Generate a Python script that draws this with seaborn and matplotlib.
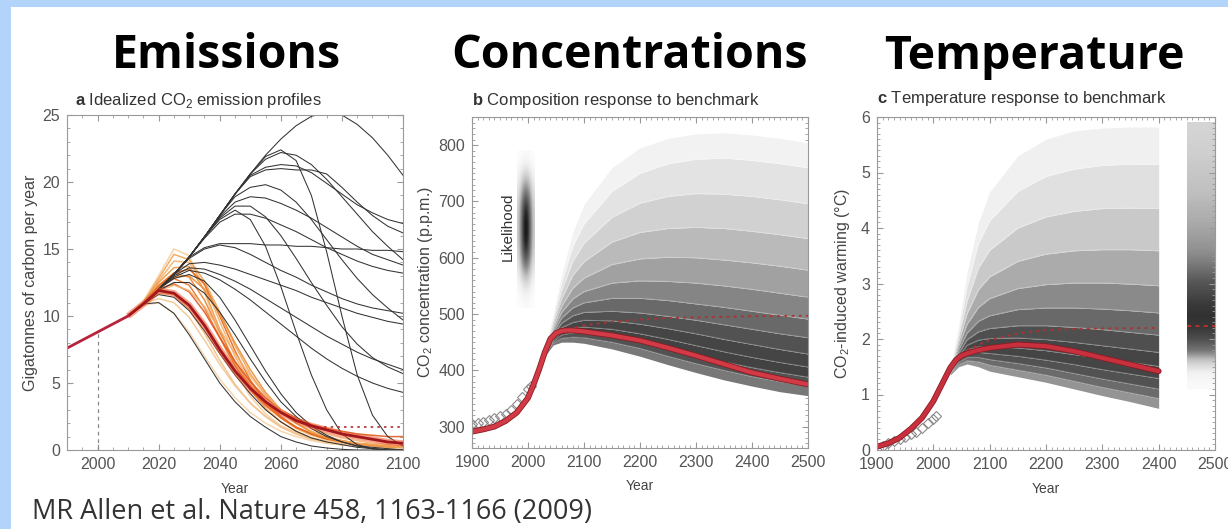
import numpy as np
import pandas as pd
import matplotlib
matplotlib.use("Agg")
import matplotlib.pyplot as plt
import matplotlib.patheffects as pe
from matplotlib.patches import Rectangle
from matplotlib.ticker import MultipleLocator
import seaborn as sns

W, H, DPI = 1228, 529, 100

# ---------------- panel a: idealized emission profiles (GtC / yr) ----------------
hist_years = [1990, 1995, 2000, 2005, 2010]
hist_emis = [7.6, 8.2, 8.8, 9.4, 10.0]
scen_years = [2010, 2015, 2020, 2025, 2030, 2035, 2040, 2045, 2050, 2055,
              2060, 2065, 2070, 2075, 2080, 2085, 2090, 2095, 2100]
black_profiles = [
    [10.0, 10.9, 12.0, 13.1, 14.4, 15.9, 17.5, 19.1, 20.6, 22.0, 23.2, 24.2, 24.9, 25.2, 25.0, 24.3, 23.3, 22.0, 20.5],
    [10.0, 10.9, 12.0, 13.1, 14.4, 15.9, 17.5, 19.1, 20.6, 21.7, 22.2, 22.0, 21.3, 20.2, 18.9, 17.6, 16.3, 15.2, 14.2],
    [10.0, 10.9, 12.0, 13.1, 14.4, 15.9, 17.5, 19.1, 20.5, 21.1, 21.3, 21.2, 20.7, 19.9, 19.1, 18.3, 17.7, 17.2, 16.9],
    [10.0, 10.9, 12.0, 13.1, 14.4, 15.9, 17.5, 19.1, 20.4, 20.9, 21.0, 20.9, 20.9, 20.6, 19.6, 18.5, 17.5, 16.7, 16.2],
    [10.0, 10.9, 12.0, 13.1, 14.4, 15.9, 17.5, 18.9, 19.6, 19.8, 19.4, 18.5, 17.2, 15.7, 14.2, 12.8, 11.6, 10.6, 9.7],
    [10.0, 10.9, 12.0, 13.1, 14.4, 15.9, 17.4, 18.5, 18.9, 18.8, 18.4, 17.9, 17.3, 16.6, 15.9, 15.2, 14.6, 14.2, 13.8],
    [10.0, 10.9, 12.0, 13.1, 14.4, 15.9, 17.3, 18.2, 18.2, 17.4, 16.0, 14.3, 12.5, 10.8, 9.2, 7.9, 6.9, 6.2, 5.7],
    [10.0, 10.9, 12.0, 13.1, 14.4, 15.9, 17.2, 17.9, 17.2, 15.2, 12.2, 8.8, 5.6, 3.0, 1.2, 0.4, 0.1, 0.0, 0.0],
    [10.0, 10.9, 12.0, 13.1, 14.4, 15.8, 17.0, 17.6, 17.6, 17.3, 16.8, 16.3, 15.7, 15.1, 14.6, 14.1, 13.7, 13.4, 13.2],
    [10.0, 10.9, 12.0, 13.1, 14.4, 15.1, 15.4, 15.4, 15.4, 15.3, 15.3, 15.2, 15.2, 15.1, 15.0, 15.0, 14.9, 14.9, 14.8],
    [10.0, 10.9, 12.0, 13.1, 14.3, 15.0, 15.3, 15.1, 14.6, 14.0, 13.4, 12.9, 12.3, 11.8, 11.3, 10.9, 10.6, 10.4, 10.2],
    [10.0, 10.9, 12.0, 13.1, 13.9, 14.0, 13.8, 13.5, 13.1, 12.7, 12.3, 11.9, 11.4, 11.0, 10.6, 10.2, 9.9, 9.6, 9.4],
    [10.0, 10.9, 12.0, 13.0, 13.6, 13.5, 13.1, 12.6, 12.0, 11.3, 10.6, 9.9, 9.2, 8.5, 7.9, 7.3, 6.8, 6.4, 6.0],
    [10.0, 10.9, 12.0, 12.9, 13.4, 13.2, 12.7, 12.0, 11.2, 10.3, 9.4, 8.5, 7.6, 6.8, 6.1, 5.5, 5.0, 4.6, 4.3],
    [10.0, 10.9, 12.0, 12.8, 13.1, 12.6, 11.4, 9.7, 7.8, 5.9, 4.2, 2.8, 1.8, 1.1, 0.6, 0.3, 0.1, 0.0, 0.0],
    [10.0, 10.9, 11.9, 12.5, 12.5, 11.7, 10.3, 8.6, 6.8, 5.1, 3.6, 2.5, 1.6, 1.0, 0.6, 0.3, 0.2, 0.1, 0.0],
    [10.0, 10.9, 11.0, 10.2, 8.6, 6.8, 5.0, 3.6, 2.5, 1.7, 1.0, 0.6, 0.3, 0.15, 0.05, 0.0, 0.0, 0.0, 0.0],
    [10.0, 10.9, 11.6, 11.4, 10.4, 8.9, 7.2, 5.6, 4.2, 3.0, 2.1, 1.4, 0.9, 0.6, 0.4, 0.2, 0.1, 0.0, 0.0],
    [10.0, 10.9, 12.0, 13.1, 14.4, 15.9, 17.5, 19.1, 20.6, 21.9, 22.4, 21.6, 19.0, 14.8, 10.0, 5.6, 2.6, 1.0, 0.3],
]
orange_profiles = [
    [10.0, 11.1, 13.0, 15.0, 14.5, 11.8, 8.5, 5.9, 4.0, 2.7, 1.8, 1.2, 0.8, 0.5, 0.4, 0.3, 0.2, 0.2, 0.1],
    [10.0, 11.0, 12.6, 14.1, 14.0, 12.3, 9.6, 7.0, 5.0, 3.5, 2.4, 1.6, 1.1, 0.8, 0.5, 0.4, 0.3, 0.2, 0.2],
    [10.0, 11.0, 12.5, 13.6, 13.7, 11.9, 9.0, 6.4, 4.5, 3.1, 2.1, 1.4, 0.9, 0.6, 0.4, 0.3, 0.2, 0.1, 0.1],
    [10.0, 10.9, 12.3, 13.2, 12.9, 11.2, 8.8, 6.6, 4.8, 3.4, 2.4, 1.7, 1.2, 0.8, 0.6, 0.4, 0.3, 0.2, 0.2],
    [10.0, 10.9, 12.1, 12.8, 12.3, 10.6, 8.4, 6.3, 4.6, 3.3, 2.4, 1.7, 1.2, 0.9, 0.7, 0.5, 0.4, 0.3, 0.3],
    [10.0, 10.9, 12.2, 13.2, 13.5, 12.4, 10.0, 7.4, 5.2, 3.6, 2.5, 1.7, 1.2, 0.8, 0.6, 0.4, 0.3, 0.3, 0.2],
    [10.0, 10.9, 11.7, 11.6, 10.5, 8.7, 6.7, 4.9, 3.5, 2.5, 1.7, 1.2, 0.8, 0.6, 0.4, 0.3, 0.2, 0.2, 0.1],
    [10.0, 10.9, 11.3, 11.0, 9.9, 8.2, 6.4, 4.8, 3.5, 2.5, 1.8, 1.3, 0.9, 0.7, 0.5, 0.4, 0.3, 0.2, 0.2],
    [10.0, 11.0, 12.8, 14.6, 14.2, 12.6, 10.3, 7.8, 5.7, 4.1, 2.9, 2.0, 1.4, 1.0, 0.7, 0.5, 0.4, 0.3, 0.2],
    [10.0, 10.9, 12.0, 12.4, 11.8, 10.3, 8.4, 6.6, 5.1, 3.9, 3.0, 2.4, 1.9, 1.6, 1.4, 1.2, 1.1, 1.0, 1.0],
    [10.0, 10.9, 12.1, 12.9, 13.0, 12.0, 10.2, 8.0, 6.0, 4.3, 3.0, 2.0, 1.3, 0.9, 0.6, 0.4, 0.3, 0.2, 0.1],
    [10.0, 10.9, 11.9, 12.3, 11.9, 10.7, 9.0, 7.2, 5.5, 4.1, 3.0, 2.2, 1.6, 1.2, 0.9, 0.7, 0.5, 0.4, 0.3],
    [10.0, 10.8, 11.0, 10.2, 8.8, 7.0, 5.3, 3.9, 2.8, 2.0, 1.4, 1.0, 0.7, 0.5, 0.4, 0.3, 0.2, 0.1, 0.1],
]
orange_colors = ['#f7cf9c', '#f4b26c', '#ee9a45', '#ea8532', '#e87426', '#e4661e', '#f2c18a',
                 '#f4c590', '#f0a552', '#e05a20', '#eb8f3a', '#f3b070', '#f7d3a8']
bench_emis = [10.0, 10.9, 11.9, 11.7, 10.8, 9.3, 7.5, 5.9, 4.6, 3.6,
              2.8, 2.2, 1.8, 1.5, 1.2, 1.0, 0.8, 0.6, 0.5]
emis_threshold = 1.75
threshold_from = 2074

# ---------------- panel b: CO2 concentration (ppm) ----------------
conc_years = [1900, 1920, 1940, 1960, 1980, 2000, 2010, 2020, 2030, 2040, 2050, 2060,
              2070, 2080, 2100, 2150, 2200, 2250, 2300, 2350, 2400, 2450, 2500]
bench_conc = [291, 295, 300, 310, 325, 351, 375, 402, 432, 456, 466, 470,
              471, 471, 469, 462, 453, 440, 426, 411, 396, 385, 375]
conc_dot_years = [2060, 2100, 2150, 2200, 2250, 2300, 2400, 2500]
conc_dot = [470, 480, 486, 490, 493, 494, 496, 497]
conc_fan_years = [2030, 2045, 2060, 2080, 2100, 2150, 2200, 2250, 2300, 2350, 2400, 2450, 2500]
# ensemble quantile curves, lowest to highest
conc_fan = [
    [425, 445, 450, 450, 448, 438, 425, 410, 396, 383, 372, 362, 355],
    [427, 449, 457, 459, 458, 450, 439, 425, 412, 400, 389, 380, 372],
    [428, 452, 463, 467, 467, 461, 451, 439, 427, 415, 405, 396, 388],
    [429, 455, 469, 475, 477, 473, 465, 455, 444, 433, 423, 414, 406],
    [430, 459, 476, 485, 489, 488, 482, 474, 465, 455, 446, 437, 429],
    [431, 463, 484, 497, 503, 505, 502, 496, 489, 481, 473, 465, 458],
    [432, 467, 493, 511, 520, 528, 528, 524, 518, 512, 505, 498, 491],
    [433, 472, 503, 527, 540, 555, 559, 558, 555, 550, 544, 537, 530],
    [434, 477, 514, 546, 564, 588, 598, 601, 600, 596, 591, 585, 578],
    [435, 483, 527, 569, 593, 628, 645, 652, 654, 652, 647, 641, 634],
    [436, 489, 541, 594, 626, 672, 697, 709, 714, 713, 709, 703, 696],
    [437, 495, 556, 620, 660, 718, 750, 767, 775, 777, 773, 767, 760],
    [438, 500, 570, 645, 695, 760, 795, 812, 820, 822, 818, 812, 804],
]
conc_band_grey = [0.47, 0.32, 0.26, 0.27, 0.32, 0.41, 0.52, 0.63, 0.73, 0.82, 0.89, 0.95]
obs_conc_years = [1900, 1910, 1920, 1930, 1940, 1950, 1960, 1970, 1980, 1990, 2000, 2005]
obs_conc = [305, 307, 309, 312, 315, 318, 323, 330, 340, 353, 367, 373]
like_levels = [520, 540, 560, 580, 600, 620, 640, 660, 680, 700, 720, 740, 760, 780]
like_weight = [0.05, 0.15, 0.32, 0.55, 0.78, 0.93, 1.0, 1.0, 0.95, 0.82, 0.6, 0.38, 0.18, 0.05]
like_across = [0.3, 0.75, 1.0, 0.75, 0.3]

# ---------------- panel c: CO2-induced warming (degC) ----------------
temp_years = [1900, 1920, 1940, 1960, 1980, 2000, 2010, 2020, 2030, 2040, 2050, 2060,
              2080, 2100, 2150, 2200, 2250, 2300, 2350, 2400]
bench_temp = [0.06, 0.12, 0.22, 0.38, 0.58, 0.88, 1.08, 1.28, 1.48, 1.62, 1.70, 1.74,
              1.80, 1.84, 1.90, 1.87, 1.78, 1.66, 1.54, 1.42]
temp_dot_years = [2060, 2100, 2150, 2200, 2250, 2300, 2400]
temp_dot = [1.80, 1.98, 2.10, 2.16, 2.18, 2.19, 2.20]
temp_fan_years = [2030, 2045, 2060, 2080, 2100, 2150, 2200, 2250, 2300, 2350, 2400]
temp_fan = [
    [1.35, 1.50, 1.55, 1.50, 1.42, 1.32, 1.22, 1.10, 0.98, 0.87, 0.75],
    [1.36, 1.54, 1.61, 1.59, 1.53, 1.44, 1.35, 1.24, 1.13, 1.03, 0.93],
    [1.37, 1.58, 1.67, 1.67, 1.63, 1.56, 1.48, 1.38, 1.28, 1.19, 1.10],
    [1.38, 1.62, 1.74, 1.76, 1.74, 1.69, 1.62, 1.54, 1.45, 1.37, 1.29],
    [1.39, 1.66, 1.81, 1.86, 1.86, 1.84, 1.79, 1.72, 1.65, 1.58, 1.51],
    [1.40, 1.70, 1.89, 1.98, 2.01, 2.02, 1.99, 1.94, 1.88, 1.82, 1.76],
    [1.41, 1.75, 1.99, 2.13, 2.19, 2.24, 2.24, 2.21, 2.17, 2.12, 2.07],
    [1.42, 1.81, 2.11, 2.32, 2.42, 2.53, 2.56, 2.56, 2.54, 2.51, 2.47],
    [1.43, 1.88, 2.27, 2.57, 2.73, 2.91, 2.98, 3.01, 3.01, 2.99, 2.96],
    [1.44, 1.96, 2.46, 2.89, 3.12, 3.40, 3.53, 3.59, 3.61, 3.61, 3.59],
    [1.45, 2.05, 2.69, 3.28, 3.60, 4.00, 4.20, 4.30, 4.35, 4.36, 4.35],
    [1.46, 2.15, 2.95, 3.72, 4.13, 4.66, 4.93, 5.06, 5.13, 5.15, 5.15],
    [1.47, 2.25, 3.20, 4.10, 4.65, 5.30, 5.60, 5.75, 5.80, 5.82, 5.82],
]
temp_band_grey = [0.58, 0.42, 0.32, 0.27, 0.27, 0.31, 0.41, 0.54, 0.67, 0.79, 0.88, 0.94]
obs_temp_years = [1910, 1920, 1930, 1940, 1950, 1960, 1970, 1980, 1990, 2000, 2005]
obs_temp = [0.08, 0.12, 0.16, 0.20, 0.24, 0.28, 0.33, 0.40, 0.48, 0.56, 0.62]
# equilibrium-warming likelihood strip, 0.2 degC cells from 1.1 to 5.9
strip_weight = [0.05, 0.12, 0.32, 0.62, 0.76, 0.82, 0.84, 0.82, 0.78, 0.74, 0.66, 0.58,
                0.52, 0.48, 0.45, 0.42, 0.40, 0.37, 0.35, 0.33, 0.31, 0.29, 0.28, 0.27]
strip_median = 2.24

titles = ['Emissions', 'Concentrations', 'Temperature']
caption = 'MR Allen et al. Nature 458, 1163-1166 (2009)'


def long_df(years, profiles):
    rows = []
    for i, p in enumerate(profiles):
        for y, v in zip(years, p):
            rows.append((i, y, v))
    return pd.DataFrame(rows, columns=['run', 'year', 'value'])


def draw_fan(ax, years, curves, greys):
    for k, g in enumerate(greys):
        ax.fill_between(years, curves[k], curves[k + 1], color=(g, g, g), lw=0)
    for q in curves[1:-1]:
        ax.plot(years, q, color='white', lw=0.6, alpha=0.3)


sns.set_theme(style='ticks')
plt.rcParams['font.family'] = ['Liberation Sans', 'DejaVu Sans']
plt.rcParams['mathtext.fontset'] = 'custom'
plt.rcParams['mathtext.rm'] = 'Liberation Sans'
plt.rcParams['mathtext.bf'] = 'Liberation Sans:bold'

fig = plt.figure(figsize=(W / DPI, H / DPI), dpi=DPI)
fig.patch.set_facecolor('#b2d4fb')
fig.add_artist(Rectangle((11 / W, 0), 1 - 11 / W, 1 - 7 / H, transform=fig.transFigure,
                         facecolor='white', edgecolor='none', zorder=-5))


def px_axes(l, t, r, b):
    return fig.add_axes([l / W, 1 - b / H, (r - l) / W, (b - t) / H])


ax_a = px_axes(67, 115, 403, 450)
ax_b = px_axes(472, 117, 808, 448)
ax_c = px_axes(877, 117, 1215, 450)

red_fx = [pe.Stroke(linewidth=4.2, foreground='#8a1c24'), pe.Normal()]

# ---- a ----
df_or = long_df(scen_years, orange_profiles)
sns.lineplot(data=df_or, x='year', y='value', hue='run', palette=orange_colors,
             estimator=None, lw=1.1, alpha=0.9, legend=False, ax=ax_a)
df_bk = long_df(scen_years, black_profiles)
sns.lineplot(data=df_bk, x='year', y='value', units='run', estimator=None,
             color='#333333', lw=0.75, legend=False, ax=ax_a)
ax_a.plot(scen_years, bench_emis, color='#ef5a2a', lw=4.5, alpha=0.55, solid_capstyle='butt')
ax_a.plot(scen_years, bench_emis, color='#a3161d', lw=2.0)
ax_a.plot(hist_years, hist_emis, color='#b8243c', lw=2.0)
ax_a.vlines(hist_years[2], 0, hist_emis[2], color='#888', lw=0.9, linestyles=(0, (3, 3)))
ax_a.hlines(emis_threshold, threshold_from, scen_years[-1], color='#b03030', lw=1.2,
            linestyles=(0, (1.5, 2.5)))
ax_a.set_xlim(1990, 2100)
ax_a.set_ylim(0, 25)
ax_a.xaxis.set_major_locator(MultipleLocator(20))
ax_a.xaxis.set_minor_locator(MultipleLocator(5))
ax_a.yaxis.set_major_locator(MultipleLocator(5))
ax_a.yaxis.set_minor_locator(MultipleLocator(1))
ax_a.set_ylabel('Gigatonnes of carbon per year')

# ---- b ----
draw_fan(ax_b, conc_fan_years, conc_fan, conc_band_grey)
ax_b.plot(conc_dot_years, conc_dot, color='#b03030', lw=1.3, ls=(0, (1.5, 2.5)))
ax_b.plot(obs_conc_years, obs_conc, ls='none', marker='D', ms=5, mfc='none', mec='#8a8a8a', mew=0.8)
ax_b.plot(conc_years, bench_conc, color='#d23a45', lw=3.0, path_effects=red_fx)
like = np.outer(like_weight, like_across)
ax_b.imshow(like, extent=(1980, 2012, like_levels[0] - 10, like_levels[-1] + 10), origin='lower',
            cmap='Greys', vmin=0, vmax=1, aspect='auto', interpolation='bicubic', zorder=1)
ax_b.text(1964, 655, 'Likelihood', rotation=90, ha='center', va='center', fontsize=11, color='#333')
ax_b.set_xlim(1900, 2500)
ax_b.set_ylim(262, 850)
ax_b.xaxis.set_major_locator(MultipleLocator(100))
ax_b.xaxis.set_minor_locator(MultipleLocator(10))
ax_b.yaxis.set_major_locator(MultipleLocator(100))
ax_b.yaxis.set_minor_locator(MultipleLocator(10))
ax_b.set_ylabel('CO$_2$ concentration (p.p.m.)')

# ---- c ----
draw_fan(ax_c, temp_fan_years, temp_fan, temp_band_grey)
ax_c.plot(temp_dot_years, temp_dot, color='#b03030', lw=1.3, ls=(0, (1.5, 2.5)))
ax_c.plot(obs_temp_years, obs_temp, ls='none', marker='D', ms=5, mfc='none', mec='#8a8a8a', mew=0.8)
ax_c.plot(temp_years, bench_temp, color='#c8303e', lw=3.0, path_effects=red_fx)
ax_c.imshow(np.array(strip_weight)[:, None], extent=(2450, 2500, 1.1, 5.9), origin='lower',
            cmap='Greys', vmin=0, vmax=1, aspect='auto', interpolation='bilinear')
ax_c.hlines(strip_median, 2450, 2500, color='#b03030', lw=1.5, linestyles=(0, (2, 2)))
ax_c.set_xlim(1900, 2500)
ax_c.set_ylim(0, 6)
ax_c.xaxis.set_major_locator(MultipleLocator(100))
ax_c.xaxis.set_minor_locator(MultipleLocator(10))
ax_c.yaxis.set_major_locator(MultipleLocator(1))
ax_c.yaxis.set_minor_locator(MultipleLocator(0.1))
ax_c.set_ylabel('CO$_2$-induced warming (°C)')

for ax, ylab_x in [(ax_a, -0.085), (ax_b, -0.11), (ax_c, -0.075)]:
    ax.set_xlabel('Year', fontsize=10, color='#444')
    ax.xaxis.set_label_coords(0.5, -0.095)
    ax.yaxis.label.set_fontsize(11.5)
    ax.yaxis.label.set_color('#444')
    ax.yaxis.set_label_coords(ylab_x, 0.5)
    ax.tick_params(which='both', direction='in', top=True, right=True, color='#999',
                   labelsize=11.5, labelcolor='#555', pad=5)
    ax.tick_params(which='major', length=4, width=0.8)
    ax.tick_params(which='minor', length=2, width=0.6)
    for s in ax.spines.values():
        s.set_color('#999')
        s.set_linewidth(0.8)

# panel sub-titles
fig.text(75 / W, 1 - 100 / H, r'$\mathbf{a}$ Idealized CO$_2$ emission profiles',
         fontsize=12, color='#333', va='center')
fig.text(472 / W, 1 - 100 / H, r'$\mathbf{b}$ Composition response to benchmark',
         fontsize=12, color='#333', va='center')
fig.text(877 / W, 1 - 98 / H, r'$\mathbf{c}$ Temperature response to benchmark',
         fontsize=12, color='#333', va='center')

for t, cx in zip(titles, [226, 630, 1034]):
    fig.text(cx / W, 1 - 56 / H, t, ha='center', va='center', fontsize=33.5,
             fontweight='bold', family='Open Sans', color='black')

fig.text(32 / W, 1 - 512 / H, caption, ha='left', va='center', fontsize=19.5,
         family='Open Sans', color='#333')

fig.savefig('out.png', dpi=DPI, facecolor=fig.get_facecolor())
